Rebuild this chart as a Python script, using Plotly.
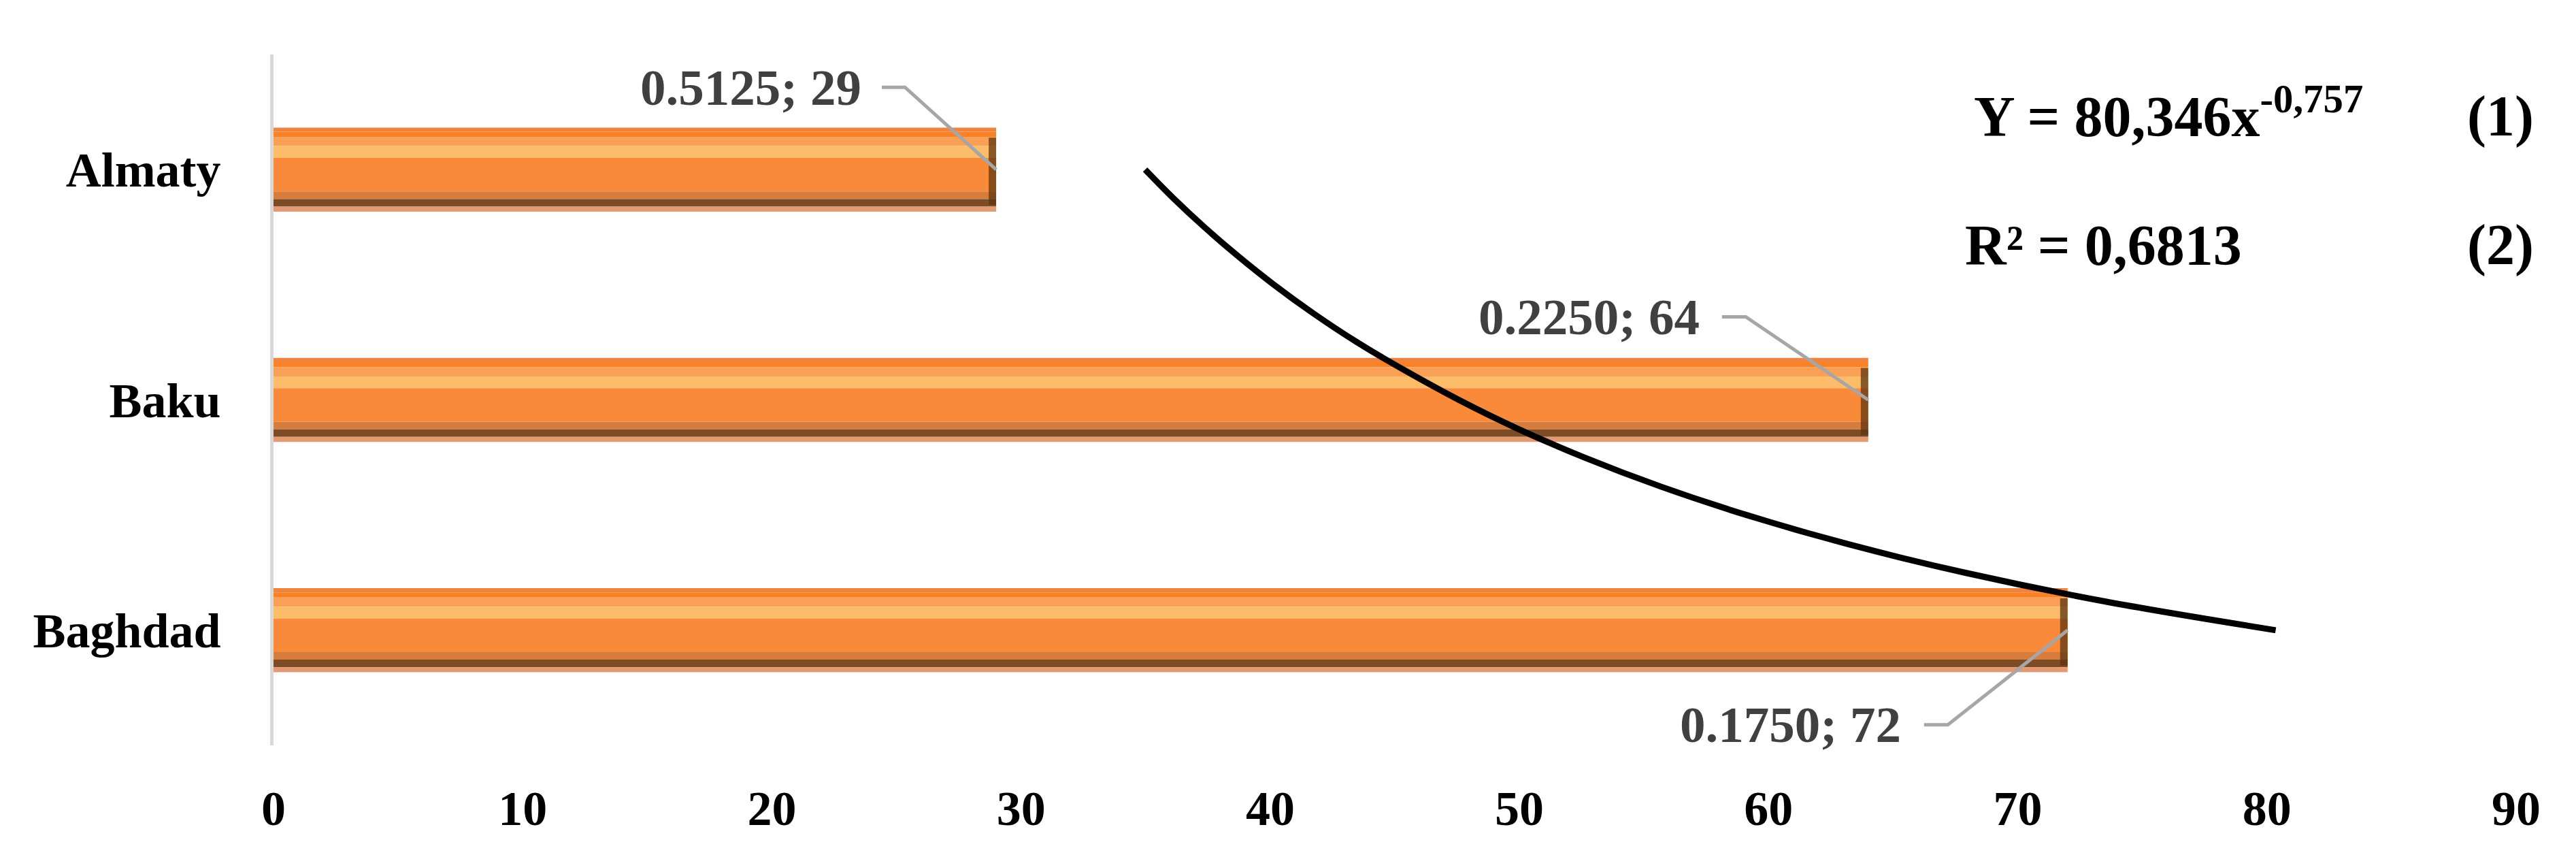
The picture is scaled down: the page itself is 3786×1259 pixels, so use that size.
import plotly.graph_objects as go

cities = ["Baghdad", "Baku", "Almaty"]
values = [72, 64, 29]
shares = ["0.1750", "0.2250", "0.5125"]
x_ticks = [0, 10, 20, 30, 40, 50, 60, 70, 80, 90]

# power trend line (index 1 = Baghdad ... 3 = Almaty)
trend_index = [1, 1.125, 1.25, 1.375, 1.5, 1.625, 1.75, 1.875, 2,
               2.125, 2.25, 2.375, 2.5, 2.625, 2.75, 2.875, 3]
trend_value = [80.35, 73.49, 67.87, 63.14, 59.12, 55.64, 52.61, 49.93, 47.57,
               45.45, 43.49, 41.74, 40.15, 38.70, 37.36, 36.12, 34.98]

equation = "Y = 80,346x<sup>-0,757</sup>"
r_squared = "R² = 0,6813"

FONT = "Liberation Serif, Times New Roman, serif"
BAR_W = 0.365

# horizontal stripes (fraction from top of bar, colour) to fake the glossy cylinder look
stripes = [
    (0.00, 0.05, "#EE8440"),
    (0.05, 0.11, "#FB8126"),
    (0.11, 0.22, "#F9A056"),
    (0.22, 0.36, "#FDBC69"),
    (0.36, 0.76, "#F98A3A"),
    (0.76, 0.85, "#D67D3D"),
    (0.85, 0.94, "#7D4B24"),
    (0.94, 1.00, "#E39A72"),
]

# label / leader offsets in pixels from the bar end: (elbow dx, start dx, dy, text dx)
leaders = {
    "Baghdad": (-176, -211, -139, -243),
    "Baku": (-180, -215, 122, -246),
    "Almaty": (-134, -168, 121, -196),
}

fig = go.Figure()

for f1, f2, col in stripes:
    fig.add_trace(go.Bar(
        y=cities, x=values, orientation="h",
        width=(f2 - f1) * BAR_W, offset=BAR_W / 2 - f2 * BAR_W,
        marker=dict(color=col, line=dict(width=0)),
        hoverinfo="skip",
    ))

# dark end caps
fig.add_trace(go.Bar(
    y=cities, x=[0.3] * len(values), base=[v - 0.3 for v in values], orientation="h",
    width=BAR_W * 0.8, offset=BAR_W / 2 - 0.92 * BAR_W,
    marker=dict(color="#5E3512", opacity=0.75, line=dict(width=0)),
    hoverinfo="skip",
))

fig.add_trace(go.Scatter(
    x=trend_value, y=trend_index, yaxis="y2", mode="lines",
    line=dict(color="black", width=9, shape="spline", smoothing=1, simplify=False),
))

for i, (city, v, s) in enumerate(zip(cities, values, shares)):
    ex, sx, dy, tx = leaders[city]
    fig.add_shape(
        type="path", xref="x", yref="y2", xsizemode="pixel", ysizemode="pixel",
        xanchor=v, yanchor=i + 1,
        path=f"M {sx},{dy} L {ex},{dy} L 0,0",
        line=dict(color="#A6A6A6", width=5),
    )
    fig.add_annotation(
        x=v, y=i + 1, xref="x", yref="y2", text=f"{s}; {v}", showarrow=False,
        xanchor="right", yanchor="middle", xshift=tx, yshift=dy,
        font=dict(family=FONT, size=75, color="#404040", weight="bold"),
    )

# equation block, bottom-anchored so the numbers in brackets share the baseline
eq_font = dict(family=FONT, size=84, color="black", weight="bold")
eq_rows = [(equation, "(1)", 0.7576, 0.862), (r_squared, "(2)", 0.7536, 0.676)]
for text, num, x0, y0 in eq_rows:
    fig.add_annotation(x=x0, y=y0, xref="paper", yref="paper", text=text,
                       showarrow=False, xanchor="left", yanchor="bottom", font=eq_font)
    fig.add_annotation(x=0.9775, y=y0, xref="paper", yref="paper", text=num,
                       showarrow=False, xanchor="left", yanchor="bottom", font=eq_font)

fig.update_layout(
    width=3786, height=1259,
    margin=dict(l=394, r=96, t=72, b=172),
    plot_bgcolor="white", paper_bgcolor="white",
    barmode="overlay", showlegend=False,
    xaxis=dict(
        range=[0, 90], tickvals=x_ticks, showgrid=False, zeroline=False, showline=False,
        ticks="", ticklabelstandoff=44,
        tickfont=dict(family=FONT, size=72, color="black", weight="bold"),
    ),
    yaxis=dict(
        type="category", categoryorder="array", categoryarray=cities, range=[-0.5, 2.5],
        showgrid=False, zeroline=False, showline=True, linecolor="#D9D9D9", linewidth=5,
        ticks="", ticklabelstandoff=58,
        tickfont=dict(family=FONT, size=72, color="black", weight="bold"),
    ),
    yaxis2=dict(overlaying="y", range=[0.5, 3.5], visible=False),
)

fig.write_html("out.html")
